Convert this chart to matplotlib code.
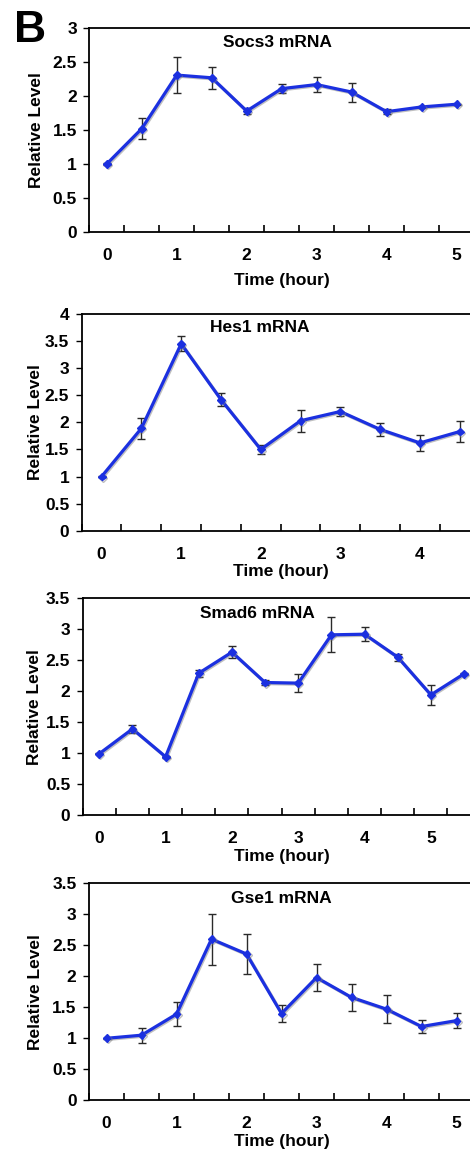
import matplotlib
matplotlib.use("Agg")
import matplotlib.pyplot as plt
import matplotlib.patheffects as pe
import numpy as np

plt.rcParams['font.family'] = ['Liberation Sans', 'DejaVu Sans']
plt.rcParams['font.weight'] = 'bold'

# ---- data ----
socs3_time = [0, 0.5, 1, 1.5, 2, 2.5, 3, 3.5, 4, 4.5, 5]
socs3_mean = [1.00, 1.52, 2.31, 2.27, 1.78, 2.11, 2.17, 2.06, 1.77, 1.84, 1.88]
socs3_err = [0.01, 0.16, 0.26, 0.16, 0.04, 0.07, 0.11, 0.14, 0.04, 0.02, 0.01]

hes1_time = [0, 0.5, 1, 1.5, 2, 2.5, 3, 3.5, 4, 4.5]
hes1_mean = [1.00, 1.89, 3.45, 2.42, 1.50, 2.03, 2.20, 1.87, 1.62, 1.83]
hes1_err = [0.01, 0.19, 0.14, 0.12, 0.08, 0.20, 0.09, 0.12, 0.15, 0.19]

smad6_time = [0, 0.5, 1, 1.5, 2, 2.5, 3, 3.5, 4, 4.5, 5, 5.5]
smad6_mean = [0.99, 1.39, 0.94, 2.29, 2.63, 2.14, 2.13, 2.91, 2.92, 2.55, 1.94, 2.28]
smad6_err = [0.01, 0.065, 0.02, 0.06, 0.10, 0.04, 0.14, 0.28, 0.11, 0.055, 0.16, 0.02]

gse1_time = [0, 0.5, 1, 1.5, 2, 2.5, 3, 3.5, 4, 4.5, 5]
gse1_mean = [1.00, 1.05, 1.39, 2.60, 2.36, 1.40, 1.98, 1.66, 1.47, 1.19, 1.285]
gse1_err = [0.01, 0.12, 0.19, 0.41, 0.32, 0.135, 0.215, 0.22, 0.225, 0.11, 0.125]

titles = ["Socs3 mRNA", "Hes1 mRNA", "Smad6 mRNA", "Gse1 mRNA"]
ymaxes = [3, 4, 3.5, 3.5]
xlabel_text = "Time (hour)"
ylabel_text = "Relative Level"
panel_letter = "B"

W, H = 470, 1155
fig = plt.figure(figsize=(W / 100, H / 100), dpi=100)

# layout in pixels: left, right, top, bottom
boxes = [
    (89.3, 474.0, 28.3, 231.7),
    (81.7, 479.6, 314.0, 530.7),
    (82.7, 480.6, 598.3, 815.0),
    (89.0, 474.0, 883.3, 1100.3),
]
title_pos = [(0.488, 0.928), (0.448, 0.937), (0.44, 0.931), (0.50, 0.928)]
ylab_x = [-0.136, -0.117, -0.12, -0.138]
xlab_y = [-0.2375, -0.189, -0.192, -0.1876]

series = [
    (socs3_time, socs3_mean, socs3_err),
    (hes1_time, hes1_mean, hes1_err),
    (smad6_time, smad6_mean, smad6_err),
    (gse1_time, gse1_mean, gse1_err),
]

FS = 12.5
blue = '#1b30e0'
for i, ((t, m, e), (l, r, tp, b)) in enumerate(zip(series, boxes)):
    ax = fig.add_axes([l / W, 1 - b / H, (r - l) / W, (b - tp) / H])
    ax.errorbar(t, m, yerr=e, fmt='none', ecolor='#2a2a2a', elinewidth=1.0,
                capsize=3, capthick=1.0, zorder=2)
    ax.plot(t, m, color=blue, lw=2.3, marker='D', markersize=4,
            markerfacecolor=blue, markeredgecolor=blue, zorder=3,
            path_effects=[pe.SimpleLineShadow(offset=(0.8, -0.8), shadow_color='#808080', alpha=0.5),
                          pe.Normal()])
    ax.set_xlim(-0.25, t[-1] + 0.25)
    ax.set_ylim(0, ymaxes[i])
    yt = np.arange(0, ymaxes[i] + 0.01, 0.5)
    ax.set_yticks(yt)
    ax.set_yticklabels([('%g' % v) for v in yt])
    majors = [v for v in range(0, int(t[-1]) + 1)]
    ax.set_xticks(majors)
    ax.set_xticklabels([str(v) for v in majors])
    ax.set_xticks(np.arange(-0.25, t[-1] + 0.3, 0.5), minor=True)
    ax.tick_params(axis='x', which='major', length=0, pad=11.5, labelsize=FS)
    ax.tick_params(axis='x', which='minor', direction='in', length=5, width=1.2)
    ax.tick_params(axis='y', which='major', direction='out', length=4, width=1.0,
                   pad=5, labelsize=FS)
    for s in ax.spines.values():
        s.set_linewidth(1.3)
    ax.text(title_pos[i][0], title_pos[i][1], titles[i], transform=ax.transAxes,
            ha='center', va='center', fontsize=FS, fontweight='bold')
    ax.set_xlabel(xlabel_text, fontsize=FS, fontweight='bold')
    ax.xaxis.set_label_coords(0.5, xlab_y[i])
    ax.xaxis.label.set_va('center')
    ax.set_ylabel(ylabel_text, fontsize=FS, fontweight='bold')
    ax.yaxis.set_label_coords(ylab_x[i], 0.5)
    ax.yaxis.label.set_va('center')

fig.text(14 / W, 1 - 42 / H, panel_letter, fontsize=32, fontweight='bold',
         ha='left', va='baseline')

fig.savefig('out.png', dpi=100)
